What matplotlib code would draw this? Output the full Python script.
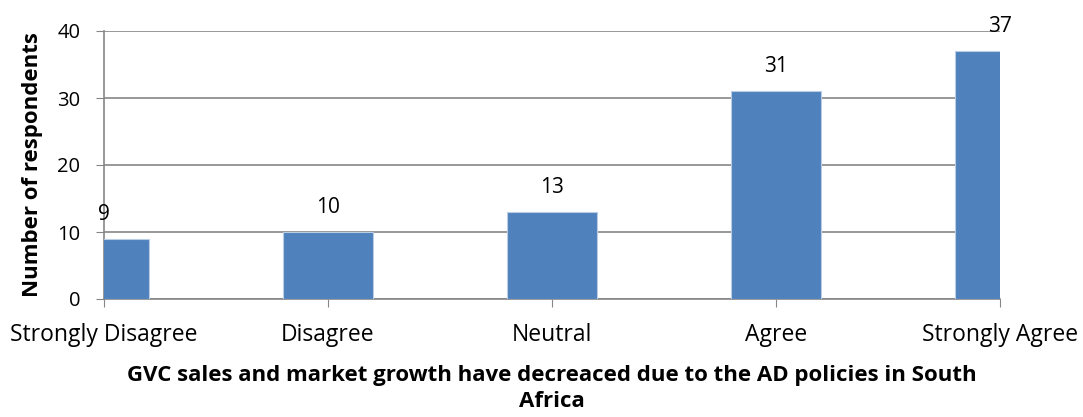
import matplotlib.pyplot as plt
import matplotlib

matplotlib.rcParams['font.family'] = ['Open Sans', 'DejaVu Sans']

# Survey responses
categories = ['Strongly Disagree', 'Disagree', 'Neutral', 'Agree', 'Strongly Agree']
counts = [9, 10, 13, 31, 37]
y_ticks = [0, 10, 20, 30, 40]

bar_color = '#4F81BD'
grid_color = '#868686'

fig = plt.figure(figsize=(10.83, 4.17), dpi=100)
ax = fig.add_axes([104 / 1083, (417 - 299) / 417, (1000 - 104) / 1083, (299 - 31) / 417])

x = list(range(len(categories)))
bars = ax.bar(x, counts, width=0.4, color=bar_color, edgecolor='#B9CDE5', linewidth=0.8,
              zorder=3, clip_on=True)

# value labels above each bar
for xi, v in zip(x, counts):
    ax.annotate(str(v), (xi, v), xytext=(0, 10), textcoords='offset points',
                ha='center', va='bottom', fontsize=15, clip_on=False)

ax.set_xlim(0, len(categories) - 1)
ax.set_ylim(0, 40)
ax.set_yticks(y_ticks)
ax.set_xticks(x)
ax.set_xticklabels(categories, fontsize=16.5)
ax.tick_params(axis='y', labelsize=14.5, length=6, color=grid_color, pad=11)
ax.tick_params(axis='x', length=6, color=grid_color, pad=11)

ax.grid(axis='y', color=grid_color, linewidth=1.2, zorder=0)
for side in ['top', 'right']:
    ax.spines[side].set_visible(False)
ax.spines['left'].set_color(grid_color)
ax.spines['left'].set_linewidth(1.2)
ax.spines['bottom'].set_color(grid_color)
ax.spines['bottom'].set_linewidth(1.2)

ax.set_ylabel('Number of respondents', fontsize=16, fontweight='bold', labelpad=10)
ax.set_xlabel('GVC sales and market growth have decreaced due to the AD policies in South\nAfrica',
              fontsize=16, fontweight='bold', labelpad=13, linespacing=1.35)

fig.savefig('out.png', dpi=100)
